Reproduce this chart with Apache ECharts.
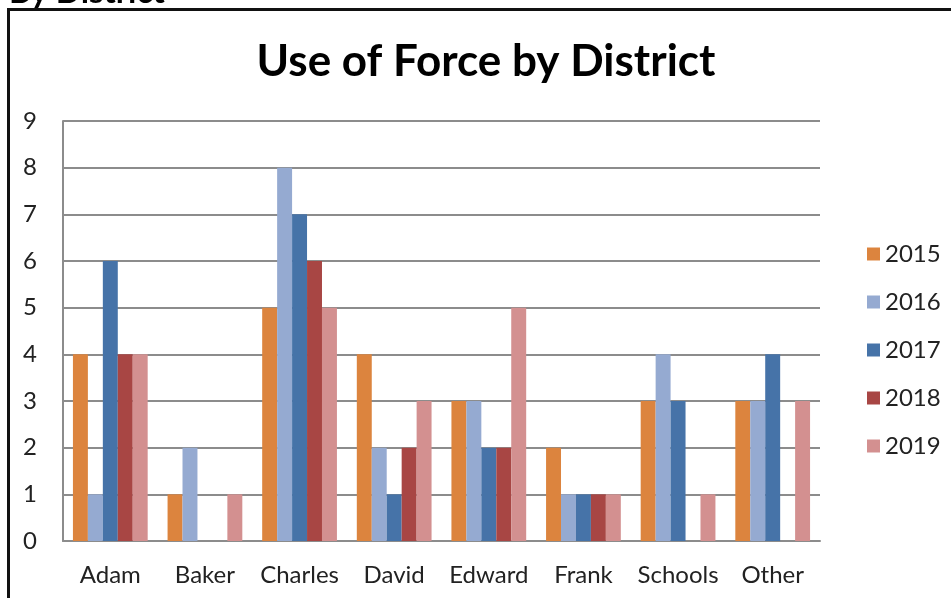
<!DOCTYPE html>
<html>
<head>
<meta charset="utf-8">
<script src="https://cdn.jsdelivr.net/npm/echarts@6/dist/echarts.min.js"></script>
<style>
  html, body { margin: 0; padding: 0; background: #fff; }
  #chart { width: 951px; height: 598px; }
</style>
</head>
<body>
<div id="chart"></div>
<script>
// Districts along the category axis
const districts = ['Adam', 'Baker', 'Charles', 'David', 'Edward', 'Frank', 'Schools', 'Other'];

// Use-of-force incidents per district, one array per year
const y2015 = [4, 1, 5, 4, 3, 2, 3, 3];
const y2016 = [1, 2, 8, 2, 3, 1, 4, 3];
const y2017 = [6, 0, 7, 1, 2, 1, 3, 4];
const y2018 = [4, 0, 6, 2, 2, 1, 0, 0];
const y2019 = [4, 1, 5, 3, 5, 1, 1, 3];

const years = ['2015', '2016', '2017', '2018', '2019'];
const yearValues = [y2015, y2016, y2017, y2018, y2019];
const yearColors = ['#DC843E', '#95AAD1', '#4673A8', '#A84644', '#D39090'];

const FONT = 'Lato, "Open Sans", sans-serif';

const chart = echarts.init(document.getElementById('chart'), null, { renderer: 'canvas' });

chart.setOption({
  animation: false,
  backgroundColor: '#ffffff',
  textStyle: { fontFamily: FONT },
  title: {
    text: 'Use of Force by District',
    left: 481,
    textAlign: 'center',
    top: 35,
    textStyle: { fontFamily: FONT, fontSize: 44, fontWeight: 'bold', color: '#000' }
  },
  graphic: [
    // heading of the page section, clipped at the top edge
    {
      type: 'text',
      left: 9,
      top: -24,
      style: { text: 'By District', font: 'bold 33px ' + FONT, fill: '#000' }
    },
    // frame around the chart
    {
      type: 'polyline',
      shape: { points: [[8.5, 598], [8.5, 9.5], [951, 9.5]] },
      style: { stroke: '#111', lineWidth: 3, fill: null }
    }
  ],
  legend: {
    orient: 'vertical',
    left: 862,
    top: 237,
    itemWidth: 13,
    itemHeight: 13,
    itemGap: 24,
    icon: 'rect',
    textStyle: { fontFamily: FONT, fontSize: 24, color: '#222' },
    data: years
  },
  grid: { left: 63, right: 131, top: 121, bottom: 57, containLabel: false },
  xAxis: {
    type: 'category',
    data: districts,
    axisLine: { lineStyle: { color: '#8C8C8C', width: 2 } },
    axisTick: { show: false },
    axisLabel: { interval: 0, fontFamily: FONT, fontSize: 24, color: '#222', margin: 22 }
  },
  yAxis: {
    type: 'value',
    min: 0,
    max: 9,
    interval: 1,
    axisLine: { show: true, lineStyle: { color: '#8C8C8C', width: 2 } },
    axisTick: { show: false },
    splitLine: { lineStyle: { color: '#8C8C8C', width: 2 } },
    axisLabel: { fontFamily: FONT, fontSize: 24, color: '#222', margin: 26 }
  },
  series: years.map((name, i) => ({
    name: name,
    type: 'bar',
    data: yearValues[i],
    barGap: '0%',
    barCategoryGap: '21%',
    itemStyle: { color: yearColors[i] }
  }))
});
</script>
</body>
</html>
